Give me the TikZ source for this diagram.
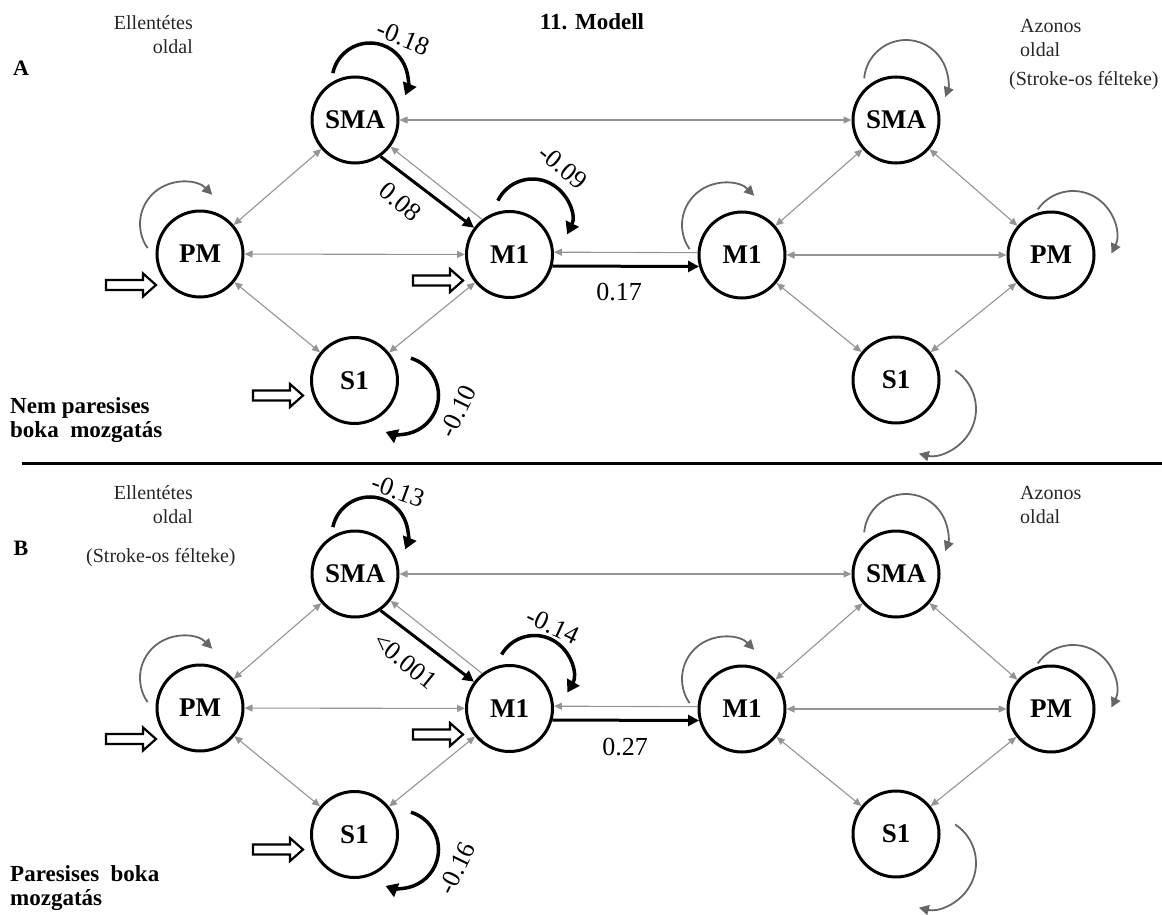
\documentclass[tikz,border=0pt]{standalone}
\usepackage{fontspec}
\setmainfont{Liberation Serif}
\usetikzlibrary{arrows.meta,calc}

% self loop: style, node, arc centre offset, start angle, end angle, radius
\newcommand\ownloop[6]{\draw[#1] ($(#2)+(#3)+(#4:#6)$) arc[start angle=#4,end angle=#5,radius=#6];}
% hollow input arrow ending at a named coordinate
\newcommand\inputarrow[1]{\draw[inbox] (#1) -- ++(-13,11.5) -- ++(0,-6.5) -- ++(-37,0) -- ++(0,-10) -- ++(37,0) -- ++(0,-6.5) -- cycle;}
% one panel of the two-hemisphere model: suffix, vertical offset
\newcommand\panel[2]{%
  \node[area] (SMA#1) at (355,{-120-#2}) {SMA};
  \node[area] (PM#1)  at (200,{-254-#2}) {PM};
  \node[area] (M1#1)  at (509.5,{-254.5-#2}) {M1};
  \node[area] (S1#1)  at (354.5,{-380.5-#2}) {S1};
  \node[area] (SMAr#1) at (896,{-120-#2}) {SMA};
  \node[area] (M1r#1)  at (742,{-255-#2}) {M1};
  \node[area] (PMr#1)  at (1051,{-255-#2}) {PM};
  \node[area] (S1r#1)  at (896,{-380-#2}) {S1};
  % grey couplings
  \draw[link] (PM#1) -- (SMA#1);
  \draw[link] (PM#1) -- (M1#1);
  \draw[link] (PM#1) -- (S1#1);
  \draw[link] (S1#1) -- (M1#1);
  \draw[onelink] (M1#1.128) -- (SMA#1.-37);
  \draw[link] (SMA#1) -- (SMAr#1);
  \draw[onelink] (M1r#1.177) -- (M1#1.3);
  \draw[link] (M1r#1) -- (SMAr#1);
  \draw[link] (SMAr#1) -- (PMr#1);
  \draw[link] (M1r#1) -- (PMr#1);
  \draw[link] (M1r#1) -- (S1r#1);
  \draw[link] (S1r#1) -- (PMr#1);
  % grey self connections
  \ownloop{greyloop}{PM#1}{-18,30}{215}{44}{42}
  \ownloop{greyloop}{SMAr#1}{10,38}{175}{-21}{42}
  \ownloop{greyloop}{M1r#1}{-18,30}{215}{44}{42}
  \ownloop{greyloop}{PMr#1}{22,21}{145}{-27}{43}
  \ownloop{greyloop}{S1r#1}{34,-29}{57}{-104}{46}
  % driving inputs
  \coordinate (inPM#1) at ($(PM#1)+(-44,-31)$);
  \coordinate (inM1#1) at ($(M1#1)+(-46.5,-26)$);
  \coordinate (inS1#1) at ($(S1#1)+(-51.5,-15)$);
  \inputarrow{inPM#1}
  \inputarrow{inM1#1}
  \inputarrow{inS1#1}
  % significant couplings
  \draw[strong] (SMA#1.-55) -- (M1#1.143);
  \draw[strong] (M1#1.-15) -- (M1r#1.195);
}

\begin{document}
\begin{tikzpicture}[x=1pt,y=1pt,
  area/.style={circle,draw=black,line width=3pt,minimum size=86pt,inner sep=0pt,
    font=\fontsize{27}{30}\selectfont\bfseries},
  link/.style={draw=black!42,line width=1.1pt,
    {Triangle[length=8pt,width=7pt]}-{Triangle[length=8pt,width=7pt]}},
  onelink/.style={draw=black!42,line width=1.1pt,-{Triangle[length=8pt,width=7pt]}},
  strong/.style={draw=black,line width=3pt,-{Triangle[length=11pt,width=11pt]}},
  blackloop/.style={draw=black,line width=3.5pt,-{Triangle[length=12pt,width=14pt]}},
  greyloop/.style={draw=black!60,line width=1.8pt,-{Triangle[length=10pt,width=10pt]}},
  inbox/.style={draw=black,fill=white,line width=2.2pt,line join=miter},
  coef/.style={font=\fontsize{26}{30}\selectfont,inner sep=0pt},
  side/.style={font=\fontsize{20}{24}\selectfont,inner sep=0pt,text=black!85},
  task/.style={font=\fontsize{23}{24}\selectfont\bfseries,inner sep=0pt,align=left,anchor=west},
  letter/.style={font=\fontsize{22}{26}\selectfont\bfseries,inner sep=0pt}]
\useasboundingbox (0,0) rectangle (1162,-915);

% ---------- panel A ----------
\panel{a}{0}
\ownloop{blackloop}{SMAa}{15,39}{168}{-22}{38}
\ownloop{blackloop}{M1a}{23,37}{154}{-26}{38.5}
\ownloop{blackloop}{S1a}{45,-15}{73}{-111}{39}
\node[coef,rotate=-22] (kSMAa) at (403,-38) {-0.18};
\node[coef,rotate=-40] (kM1a) at (563,-167) {-0.09};
\node[coef,rotate=64] (kS1a) at (458,-411) {-0.10};
\node[coef,rotate=-40] (kSMAM1a) at (400,-202) {0.08};
\node[coef] (kM1M1a) at (619,-292) {0.17};

\node[font=\fontsize{23}{26}\selectfont\bfseries,inner sep=0pt] (title) at (592,-22) {11. Modell};
\node[letter] (lblA) at (21,-68) {A};
\node[side,align=right,anchor=east] (oppA) at (193,-35) {Ellentétes\\oldal};
\node[side,align=left,anchor=west] (sameA) at (1020,-38) {Azonos\\oldal};
\node[side,anchor=west] (strokeA) at (1009,-81) {(Stroke-os félteke)};
\node[task] (taskA) at (10,-420) {Nem paresises\\boka\ \ mozgatás};

% ---------- divider ----------
\coordinate (divL) at (22,-463);
\coordinate (divR) at (1162,-463);
\draw[line width=3pt] (divL) -- (divR);

% ---------- panel B ----------
\panel{b}{454}
\ownloop{blackloop}{SMAb}{15,39}{168}{-22}{38}
\ownloop{blackloop}{M1b}{25,35}{150}{-30}{38}
\ownloop{blackloop}{S1b}{45,-15}{73}{-111}{39}
\node[coef,rotate=-20] (kSMAb) at (398,-491) {-0.13};
\node[coef,rotate=-25] (kM1b) at (553,-626) {-0.14};
\node[coef,rotate=64] (kS1b) at (457,-868) {-0.16};
\node[coef,rotate=-39] (kSMAM1b) at (405,-661) {<0.001};
\node[coef] (kM1M1b) at (625,-747) {0.27};

\node[letter] (lblB) at (21,-548) {B};
\node[side,align=right,anchor=east] (oppB) at (193,-505) {Ellentétes\\oldal};
\node[side,anchor=west] (strokeB) at (86,-558) {(Stroke-os félteke)};
\node[side,align=left,anchor=west] (sameB) at (1020,-505) {Azonos\\oldal};
\node[task] (taskB) at (10,-888) {Paresises\ \ boka\\mozgatás};
\end{tikzpicture}
\end{document}
